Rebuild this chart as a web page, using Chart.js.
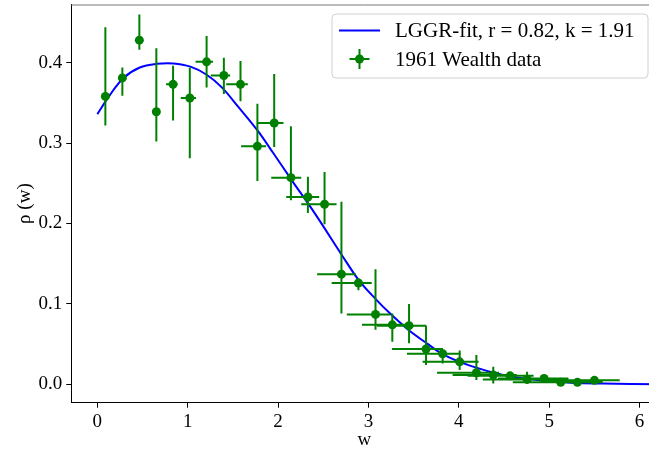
<!DOCTYPE html>
<html>
<head>
  <script src="https://cdn.jsdelivr.net/npm/chart.js"></script>
  <style>
    html, body { margin: 0; background: #fff; overflow: hidden; }
    /* axes run a little past the right edge of the window, as in the original figure */
    #wrap { width: 662px; height: 455px; }
  </style>
</head>
<body>
  <div id="wrap"><canvas id="wealthChart"></canvas></div>
  <script>
    // 1961 wealth data
    const pointX = [0.089, 0.277, 0.465, 0.653, 0.838, 1.023, 1.209, 1.400, 1.584, 1.771, 1.957, 2.142, 2.330, 2.514, 2.701,
      2.889, 3.078, 3.264, 3.449, 3.637, 3.821, 4.009, 4.194, 4.381, 4.567, 4.755, 4.943, 5.127, 5.312, 5.500];
    const pointY = [0.358, 0.381, 0.428, 0.339, 0.373, 0.356, 0.401, 0.384, 0.373, 0.296, 0.325, 0.257, 0.233, 0.224, 0.137,
      0.126, 0.087, 0.074, 0.073, 0.044, 0.038, 0.028, 0.0144, 0.0115, 0.0106, 0.0062, 0.0074, 0.0025, 0.0025, 0.005];
    const yLow = [0.322, 0.359, 0.416, 0.302, 0.328, 0.281, 0.369, 0.361, 0.352, 0.253, 0.295, 0.229, 0.213, 0.199, 0.088,
      0.117, 0.068, 0.053, 0.051, 0.024, 0.026, 0.018, 0.0055, 0.0012, 0.006, 0.001, 0.004, 0.0, 0.001, 0.003];
    const yHigh = [0.444, 0.394, 0.460, 0.418, 0.396, 0.394, 0.433, 0.406, 0.402, 0.349, 0.386, 0.321, 0.258, 0.264, 0.227,
      0.132, 0.143, 0.088, 0.100, 0.073, 0.043, 0.042, 0.0365, 0.0218, 0.014, 0.0156, 0.010, 0.004, 0.004, 0.007];
    const xErrLeft = [0, 0.01, 0.02, 0.044, 0.078, 0.10, 0.122, 0.144, 0.158, 0.18, 0.185, 0.218, 0.24, 0.258, 0.269,
      0.296, 0.318, 0.336, 0.354, 0.376, 0.395, 0.41, 0.435, 0.45, 0.47, 0.49, 0.51, 0.53, 0.55, 0.57];
    const xErrRight = [0, 0.01, 0.02, 0.041, 0.048, 0.07, 0.072, 0.07, 0.081, 0.096, 0.103, 0.114, 0.125, 0.133, 0.158,
      0.147, 0.163, 0.177, 0.19, 0.188, 0.196, 0.21, 0.25, 0.26, 0.26, 0.27, 0.27, 0.28, 0.28, 0.28];

    // LGGR fit curve
    const fitX = [0, 0.14, 0.29, 0.47, 0.66, 0.84, 1.03, 1.21, 1.38, 1.56, 1.77, 1.95, 2.15, 2.41, 2.71, 2.89, 3.08,
      3.24, 3.44, 3.65, 3.83, 4.13, 4.50, 4.87, 5.24, 5.60, 6.20];
    const fitY = [0.336, 0.360, 0.381, 0.394, 0.3985, 0.399, 0.395, 0.385, 0.369, 0.345, 0.316, 0.287, 0.254, 0.212, 0.160,
      0.130, 0.106, 0.088, 0.068, 0.0507, 0.037, 0.023, 0.0115, 0.0053, 0.002, 0.001, 0.0002];

    const xTicks = [0, 1, 2, 3, 4, 5, 6];
    const yTicks = [0.0, 0.1, 0.2, 0.3, 0.4];
    const fitLabel = "LGGR-fit, r = 0.82, k = 1.91";
    const dataLabel = "1961 Wealth data";

    const GREEN = "#008000";
    const BLUE = "#0000ff";
    const SERIF = "'Liberation Serif', 'DejaVu Serif', serif";

    // error bars as broken line segments (null y = gap)
    const vBars = [];
    const hBars = [];
    pointX.forEach((x, i) => {
      vBars.push({ x: x, y: yLow[i] }, { x: x, y: yHigh[i] }, { x: x, y: null });
      hBars.push({ x: x - xErrLeft[i], y: pointY[i] }, { x: x + xErrRight[i], y: pointY[i] }, { x: x, y: null });
    });

    const legendBox = {
      id: "legendBox",
      afterDraw(chart) {
        const ctx = chart.ctx;
        const area = chart.chartArea;
        // top spine
        ctx.save();
        ctx.strokeStyle = "#777";
        ctx.lineWidth = 1;
        ctx.beginPath();
        ctx.moveTo(area.left, area.top + 0.5);
        ctx.lineTo(area.right, area.top + 0.5);
        ctx.stroke();

        const right = area.right - 9.5;
        const top = area.top + 9.5;
        const w = 316, h = 64;
        const left = right - w;
        ctx.beginPath();
        ctx.roundRect(left, top, w, h, 4);
        ctx.fillStyle = "rgba(255,255,255,0.8)";
        ctx.fill();
        ctx.strokeStyle = "#d0d0d0";
        ctx.lineWidth = 1;
        ctx.stroke();

        const row1 = top + 16.5, row2 = top + 45;
        ctx.strokeStyle = BLUE;
        ctx.lineWidth = 2;
        ctx.beginPath();
        ctx.moveTo(left + 7, row1);
        ctx.lineTo(left + 48, row1);
        ctx.stroke();

        const mx = left + 27.5;
        ctx.strokeStyle = GREEN;
        ctx.beginPath();
        ctx.moveTo(mx - 10, row2); ctx.lineTo(mx + 10, row2);
        ctx.moveTo(mx, row2 - 10); ctx.lineTo(mx, row2 + 10);
        ctx.stroke();
        ctx.fillStyle = GREEN;
        ctx.beginPath();
        ctx.arc(mx, row2, 4.5, 0, Math.PI * 2);
        ctx.fill();

        ctx.fillStyle = "#000";
        ctx.font = "21px " + SERIF;
        ctx.textBaseline = "middle";
        ctx.fillText(fitLabel, left + 63, row1 + 1);
        ctx.fillText(dataLabel, left + 63, row2 + 1);
        ctx.restore();
      }
    };

    const tickFont = { family: SERIF, size: 19 };

    new Chart(document.getElementById("wealthChart"), {
      type: "line",
      data: {
        datasets: [
          {
            label: dataLabel,
            data: pointX.map((x, i) => ({ x: x, y: pointY[i] })),
            showLine: false,
            pointRadius: 4.5,
            pointBackgroundColor: GREEN,
            pointBorderWidth: 0,
            order: 0
          },
          {
            data: vBars,
            borderColor: GREEN,
            borderWidth: 2,
            pointRadius: 0,
            spanGaps: false,
            tension: 0,
            order: 1
          },
          {
            data: hBars,
            borderColor: GREEN,
            borderWidth: 2,
            pointRadius: 0,
            spanGaps: false,
            tension: 0,
            order: 1
          },
          {
            label: fitLabel,
            data: fitX.map((x, i) => ({ x: x, y: fitY[i] })),
            borderColor: BLUE,
            borderWidth: 2,
            pointRadius: 0,
            tension: 0.35,
            order: 2
          }
        ]
      },
      options: {
        responsive: true,
        maintainAspectRatio: false,
        animation: false,
        layout: { padding: { top: 2.7, right: 0, left: 0, bottom: 0 } },
        plugins: { legend: { display: false }, tooltip: { enabled: false } },
        scales: {
          x: {
            type: "linear",
            min: -0.288,
            max: 6.198,
            afterFit: s => { s.height = 52.3; s.paddingLeft = 0; s.paddingRight = 0; },
            afterBuildTicks: s => { s.ticks = xTicks.map(v => ({ value: v })); },
            ticks: { font: tickFont, color: "#000", padding: 3, maxRotation: 0, callback: v => String(v) },
            grid: { drawOnChartArea: false, drawTicks: true, tickLength: 5, color: "#000" },
            border: { color: "#000", width: 1 },
            title: { display: true, text: "w", font: { family: SERIF, size: 19 }, color: "#000", padding: { top: 0, bottom: 4 } }
          },
          y: {
            min: -0.0228,
            max: 0.4723,
            afterFit: s => { s.width = 71.3; s.paddingTop = 0; s.paddingBottom = 0; },
            afterBuildTicks: s => { s.ticks = yTicks.map(v => ({ value: v })); },
            ticks: { font: tickFont, color: "#000", padding: 4, callback: v => v.toFixed(1) },
            grid: { drawOnChartArea: false, drawTicks: true, tickLength: 5, color: "#000" },
            border: { color: "#000", width: 1 },
            title: { display: true, text: "ρ (w)", font: { family: SERIF, size: 19 }, color: "#000", padding: { top: 14, bottom: 0 } }
          }
        }
      },
      plugins: [legendBox]
    });
  </script>
</body>
</html>
